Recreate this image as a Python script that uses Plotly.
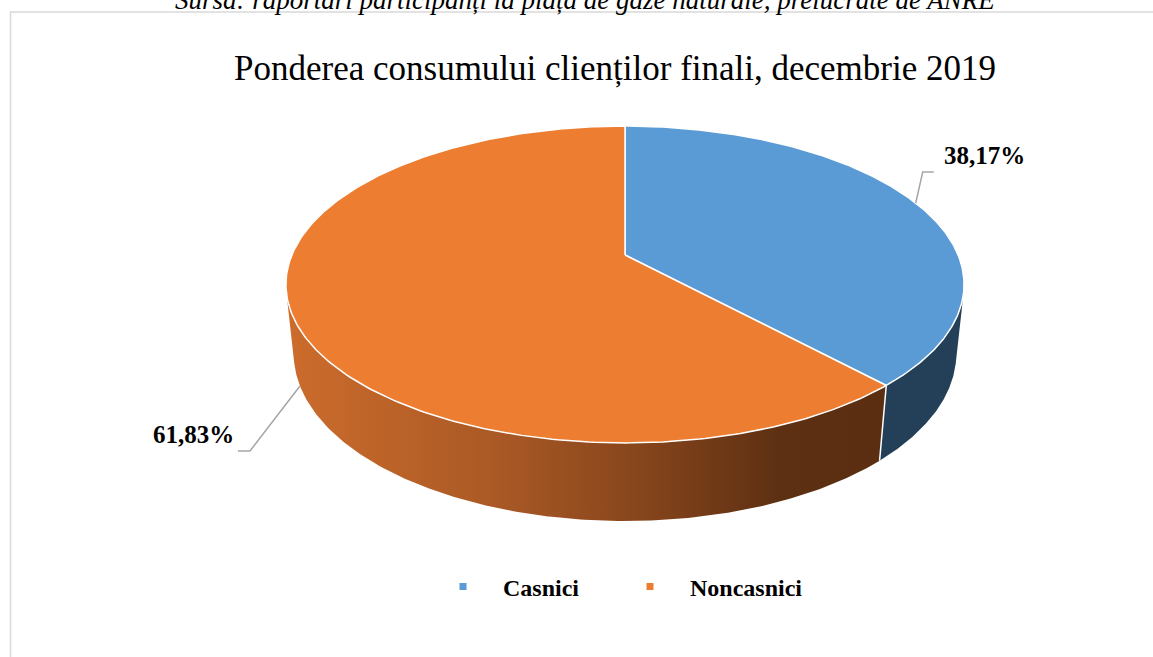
import numpy as np
import plotly.graph_objects as go

# ---- data ----
categories = ["Casnici", "Noncasnici"]
values = [38.17, 61.83]
value_labels = ["38,17%", "61,83%"]
title_text = "Ponderea consumului clienților finali, decembrie 2019"
source_text = "Sursa: raportări participanți la piața de gaze naturale, prelucrate de ANRE"

# ---- style ----
top_colors = ["#5B9BD5", "#ED7D31"]
blue_side = "#243F58"
orange_side_scale = [[0.0, "#CC6C2C"], [0.35, "#AA5925"], [0.58, "#88461C"],
                     [0.82, "#5E3013"], [1.0, "#5B2E11"]]
FONT = "Liberation Serif, Times New Roman, serif"

W, H = 1153, 657
CX, CY = 625, 255          # pixel position of pie centre
FOC = 1589.0               # focal length (px)
DIST = 4.77                # camera distance (in pie radii)
PHI = np.arcsin(0.459)     # elevation angle
THICK = 0.235              # pie thickness (in radii)


def proj(theta_deg, z):
    th = np.radians(np.asarray(theta_deg, dtype=float))
    X, Y = np.sin(th), np.cos(th)
    v = Y * np.sin(PHI) + z * np.cos(PHI)
    w = DIST + Y * np.cos(PHI) - z * np.sin(PHI)
    return CX + FOC * X / w, CY - FOC * v / w


total = sum(values)
bounds = [0.0]
for v in values:
    bounds.append(bounds[-1] + 360.0 * v / total)

# visible part of the cylinder wall
ylim = -1.0 / (DIST * np.cos(PHI))
vis_a = np.degrees(np.arccos(ylim))
vis_b = 360.0 - vis_a

fig = go.Figure()

# side walls
for i in range(len(values)):
    a, b = max(bounds[i], vis_a), min(bounds[i + 1], vis_b)
    if b <= a:
        continue
    th = np.linspace(a, b, 200)
    xt, yt = proj(th, 0.0)
    xb, yb = proj(th[::-1], -THICK)
    xs = np.concatenate([xt, xb, xt[:1]])
    ys = np.concatenate([yt, yb, yt[:1]])
    kw = dict(fillcolor=blue_side) if i == 0 else dict(
        fillgradient=dict(type="horizontal", colorscale=orange_side_scale))
    fig.add_trace(go.Scatter(x=xs, y=ys, mode="lines", fill="toself",
                             line=dict(width=0), showlegend=False,
                             hoverinfo="skip", **kw))

# white edge between side walls
for bnd in bounds[1:-1]:
    if vis_a < bnd < vis_b:
        x0, y0 = proj(bnd, 0.0)
        x1, y1 = proj(bnd, -THICK)
        fig.add_trace(go.Scatter(x=[x0, x1], y=[y0, y1], mode="lines",
                                 line=dict(color="white", width=1.5),
                                 showlegend=False, hoverinfo="skip"))

# top faces
for i in range(len(values)):
    th = np.linspace(bounds[i], bounds[i + 1], 300)
    xt, yt = proj(th, 0.0)
    xs = np.concatenate([[CX], xt, [CX]])
    ys = np.concatenate([[CY], yt, [CY]])
    fig.add_trace(go.Scatter(x=xs, y=ys, mode="lines", fill="toself",
                             fillcolor=top_colors[i],
                             line=dict(color="white", width=1.5),
                             showlegend=False, hoverinfo="skip"))

# legend entries
pad = "\u00a0\u00a0\u00a0\u200a"
for cat, col in zip(categories, top_colors):
    fig.add_trace(go.Scatter(x=[None], y=[None], mode="markers",
                             marker=dict(symbol="square", size=7, color=col),
                             name=f"{pad}<b>{cat}</b>"))

# leader lines + data labels
shapes = []
annotations = []
mids = [(bounds[i] + bounds[i + 1]) / 2 for i in range(len(values))]
# Casnici label (anchored on top rim)
px, py = proj(mids[0], 0.0)
ex, ey = px + 7, py - 31
shapes.append(dict(type="path", xref="x", yref="y",
                   path=f"M{px},{py} L{ex},{ey} L{ex + 11},{ey}",
                   line=dict(color="#A6A6A6", width=1.5)))
annotations.append(dict(x=ex + 19, y=ey - 16, xref="x", yref="y",
                        text=f"<b>{value_labels[0]}</b>", showarrow=False,
                        xanchor="left", yanchor="middle",
                        font=dict(family=FONT, size=25, color="black")))
# Noncasnici label (anchored on lower rim)
px, py = proj(mids[1], -THICK)
ex, ey = px - 50, py + 65
shapes.append(dict(type="path", xref="x", yref="y",
                   path=f"M{px},{py} L{ex},{ey} L{ex - 12},{ey}",
                   line=dict(color="#A6A6A6", width=1.5)))
annotations.append(dict(x=ex - 14, y=ey - 16, xref="x", yref="y",
                        text=f"<b>{value_labels[1]}</b>", showarrow=False,
                        xanchor="right", yanchor="middle",
                        font=dict(family=FONT, size=25, color="black")))

# chart frame
shapes.append(dict(type="rect", xref="paper", yref="paper",
                   x0=10.5 / W, x1=1.02, y0=-0.02, y1=1 - 12 / H,
                   line=dict(color="#D9D9D9", width=1.5), layer="below"))

# title & source
annotations.append(dict(x=615 / W, y=1 - 68 / H, xref="paper", yref="paper",
                        text=title_text, showarrow=False, xanchor="center",
                        yanchor="middle",
                        font=dict(family=FONT, size=35, color="black")))
annotations.append(dict(x=585 / W, y=1.0, xref="paper", yref="paper",
                        text=f"<i>{source_text}</i>", showarrow=False,
                        xanchor="center", yanchor="middle",
                        font=dict(family=FONT, size=27, color="black")))

fig.update_layout(
    width=W, height=H,
    margin=dict(l=0, r=0, t=0, b=0),
    paper_bgcolor="white", plot_bgcolor="white",
    xaxis=dict(range=[0, W], visible=False, fixedrange=True),
    yaxis=dict(range=[H, 0], visible=False, fixedrange=True),
    showlegend=True,
    legend=dict(orientation="h", x=443 / W, xanchor="left",
                y=1 - 587 / H, yanchor="middle",
                font=dict(family=FONT, size=24, color="black"),
                entrywidth=142, entrywidthmode="pixels",
                bgcolor="rgba(0,0,0,0)"),
    shapes=shapes, annotations=annotations,
    hovermode=False,
)

fig.write_html("out.html",
               config={"displayModeBar": False},
               post_script="document.body.style.margin='0px';")
